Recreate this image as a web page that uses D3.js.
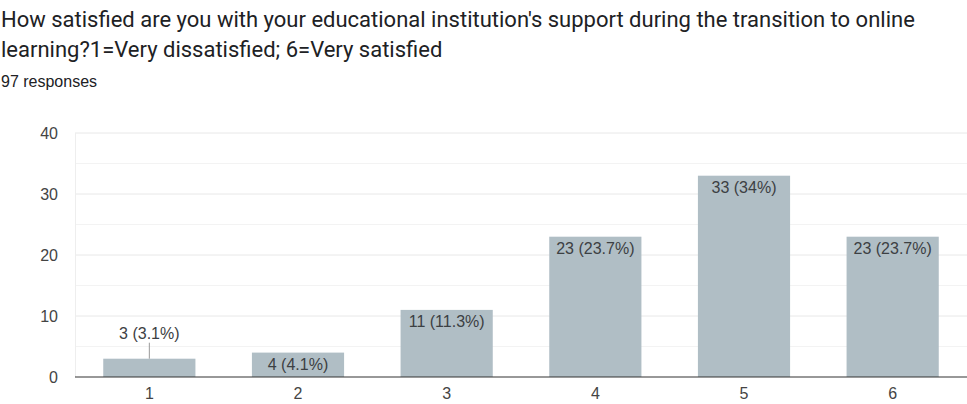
<!DOCTYPE html>
<html>
<head>
<meta charset="utf-8">
<script src="https://cdn.jsdelivr.net/npm/d3@7"></script>
<style>
body { margin: 0; background: #fff; font-family: "Liberation Sans", Arial, sans-serif; }
.title { font-family: Roboto, sans-serif; font-size: 22px; fill: #202124; }
.sub { font-size: 16px; fill: #202124; }
.tick text { font-family: "Liberation Sans", Arial, sans-serif; font-size: 16px; fill: #444; }
.lbl { font-size: 16px; fill: #3c4043; }
</style>
</head>
<body>
<div id="chart"></div>
<script>
var categories = ["1", "2", "3", "4", "5", "6"];
var counts = [3, 4, 11, 23, 33, 23];
var percents = ["3.1%", "4.1%", "11.3%", "23.7%", "34%", "23.7%"];
var yTicks = [0, 10, 20, 30, 40];
var titleLines = ["How satisfied are you with your educational institution's support during the transition to online",
                  "learning?1=Very dissatisfied; 6=Very satisfied"];
var subtitle = "97 responses";

var W = 967, H = 404;
var margin = {top: 133, right: 0, bottom: 27, left: 75};

var svg = d3.select('#chart').append('svg')
  .attr('width', W).attr('height', H);

svg.selectAll('text.title')
  .data(titleLines)
  .enter().append('text')
  .attr('class', 'title')
  .attr('x', 1)
  .attr('y', function(d, i){ return 27 + i * 30; })
  .text(function(d){ return d; });

svg.append('text')
  .attr('class', 'sub')
  .attr('x', 1)
  .attr('y', 87)
  .text(subtitle);

var x = d3.scaleBand()
  .domain(categories)
  .range([margin.left, W - margin.right])
  .paddingInner(0.38)
  .paddingOuter(0.19);

var y = d3.scaleLinear()
  .domain([0, 40])
  .range([H - margin.bottom, margin.top]);

// minor grid lines
svg.selectAll('line.minor')
  .data([5, 15, 25, 35])
  .enter().append('line')
  .attr('x1', margin.left).attr('x2', W)
  .attr('y1', function(d){ return y(d); }).attr('y2', function(d){ return y(d); })
  .attr('stroke', '#f3f3f3');

// major grid lines
svg.selectAll('line.major')
  .data(yTicks.slice(1))
  .enter().append('line')
  .attr('x1', margin.left).attr('x2', W)
  .attr('y1', function(d){ return y(d); }).attr('y2', function(d){ return y(d); })
  .attr('stroke', '#e8e8e8');

// left edge of plot
svg.append('line')
  .attr('x1', margin.left + 0.5).attr('x2', margin.left + 0.5)
  .attr('y1', y(40)).attr('y2', y(0))
  .attr('stroke', '#eeeeee');

var yAxis = d3.axisLeft(y).tickValues(yTicks).tickSize(0).tickPadding(17);
svg.append('g')
  .attr('transform', 'translate(' + margin.left + ',0)')
  .call(yAxis)
  .call(function(g){ g.select('.domain').remove(); });

var xAxis = d3.axisBottom(x).tickSize(0).tickPadding(11);
svg.append('g')
  .attr('transform', 'translate(0,' + y(0) + ')')
  .call(xAxis)
  .call(function(g){ g.select('.domain').remove(); });

svg.selectAll('rect.bar')
  .data(counts)
  .enter().append('rect')
  .attr('class', 'bar')
  .attr('x', function(d, i){ return x(categories[i]); })
  .attr('y', function(d){ return y(d); })
  .attr('width', x.bandwidth())
  .attr('height', function(d){ return y(0) - y(d); })
  .attr('fill', '#b0bec5');

// baseline
svg.append('line')
  .attr('x1', margin.left).attr('x2', W)
  .attr('y1', y(0)).attr('y2', y(0))
  .attr('stroke', '#333').attr('stroke-width', 1.2);

// value labels: inside bar if tall enough, else above with a leader line
counts.forEach(function(d, i){
  var cx = x(categories[i]) + x.bandwidth() / 2;
  var h = y(0) - y(d);
  var txt = d + ' (' + percents[i] + ')';
  if (h >= 20) {
    svg.append('text')
      .attr('class', 'lbl')
      .attr('x', cx)
      .attr('y', y(d) + 17)
      .attr('text-anchor', 'middle')
      .text(txt);
  } else {
    svg.append('line')
      .attr('x1', cx).attr('x2', cx)
      .attr('y1', y(d)).attr('y2', y(d) - 16)
      .attr('stroke', '#999');
    svg.append('text')
      .attr('class', 'lbl')
      .attr('x', cx)
      .attr('y', y(d) - 20)
      .attr('text-anchor', 'middle')
      .text(txt);
  }
});
</script>
</body>
</html>
